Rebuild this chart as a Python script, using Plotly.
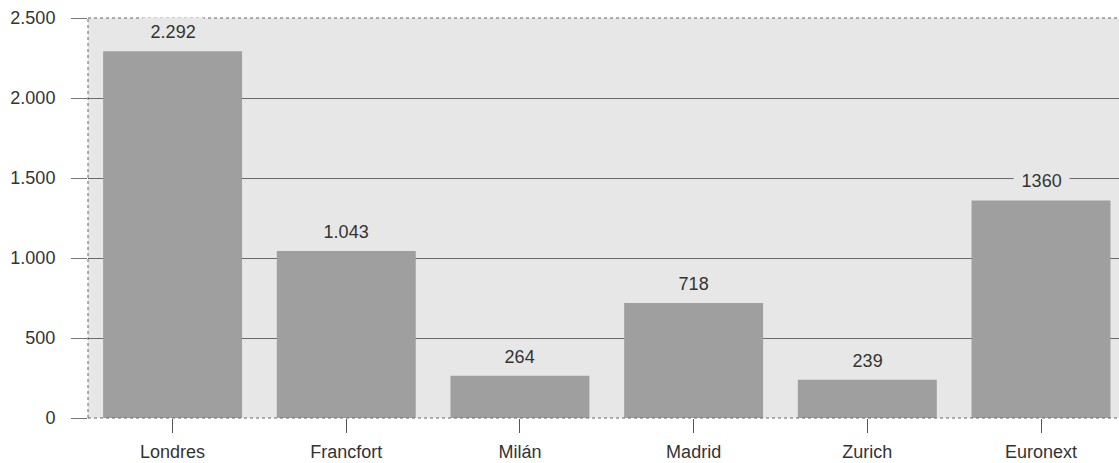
import plotly.graph_objects as go

# Bolsas europeas: capitalización por mercado
mercados = ["Londres", "Francfort", "Milán", "Madrid", "Zurich", "Euronext"]
valores = [2292, 1043, 264, 718, 239, 1360]
etiquetas = ["2.292", "1.043", "264", "718", "239", "1360"]
y_ticks = [0, 500, 1000, 1500, 2000, 2500]
y_ticktext = ["0", "500", "1.000", "1.500", "2.000", "2.500"]

BAR = "#9f9f9f"
FONDO = "#e7e7e7"
TEXTO = "#333333"
FUENTE = "Liberation Sans, Arial"

fig = go.Figure()
fig.add_trace(go.Bar(
    x=list(range(len(mercados))),
    y=valores,
    width=0.8,
    marker=dict(color=BAR, line=dict(width=0)),
    hoverinfo="skip",
))

# Etiquetas de valor sobre cada barra; el fondo corta la línea de rejilla
for i, (v, t) in enumerate(zip(valores, etiquetas)):
    fig.add_annotation(
        x=i, y=v, text="\u2009" + t + "\u2009", showarrow=False,
        yanchor="bottom", yshift=4,
        font=dict(family=FUENTE, size=18, color=TEXTO),
        bgcolor=FONDO, borderpad=4,
    )

# Borde punteado del área de trazado
for x0, y0, x1, y1 in [(0, 0, 1, 0), (0, 1, 1, 1), (0, 0, 0, 1)]:
    fig.add_shape(type="line", xref="paper", yref="paper",
                  x0=x0, y0=y0, x1=x1, y1=y1,
                  line=dict(color="#666666", width=1, dash="dot"), layer="above")

fig.update_layout(
    width=1119, height=463,
    margin=dict(l=88, r=0, t=18, b=45),
    paper_bgcolor="white",
    plot_bgcolor=FONDO,
    showlegend=False,
    font=dict(family=FUENTE, size=18, color=TEXTO),
    xaxis=dict(
        range=[-0.487, 5.449],
        tickmode="array", tickvals=list(range(len(mercados))), ticktext=mercados,
        ticks="outside", ticklen=14, tickcolor="#555555", tickwidth=1,
        ticklabelstandoff=3,
        showgrid=False, zeroline=False, showline=False,
        tickfont=dict(family=FUENTE, size=18, color=TEXTO),
    ),
    yaxis=dict(
        range=[0, 2500],
        tickmode="array", tickvals=y_ticks, ticktext=y_ticktext,
        ticks="outside", ticklen=16, tickcolor="#777777", tickwidth=1,
        ticklabelstandoff=12,
        showgrid=True, gridcolor="#6a6a6a", gridwidth=1,
        zeroline=False, showline=False,
        tickfont=dict(family=FUENTE, size=18, color=TEXTO),
    ),
    bargap=0.2,
)

fig.write_html("out.html")
